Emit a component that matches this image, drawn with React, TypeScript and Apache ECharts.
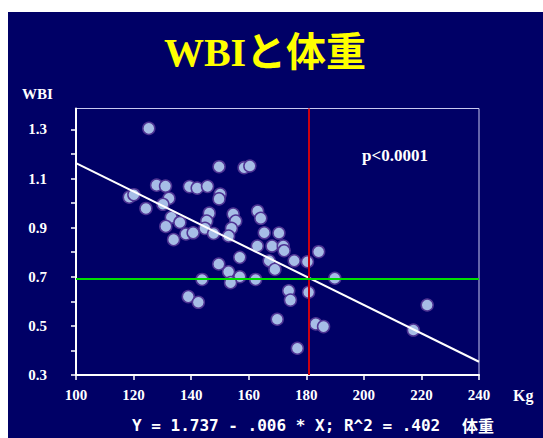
import React, { useEffect, useRef } from "react";
import * as echarts from "echarts";

const weight = [
  125.3, 149.7, 158.4, 160.4, 128.0, 131.1, 139.4, 142.1, 145.7, 150.1,
  149.7, 118.5, 120.1, 132.3, 130.2, 124.3, 146.3, 145.4, 154.6, 163.1,
  164.2, 155.5, 133.1, 136.1, 131.2, 144.8, 154.0, 165.4, 170.5, 138.2,
  140.7, 147.8, 153.0, 133.9, 163.0, 168.1, 172.0, 172.3, 184.3, 156.9,
  167.1, 175.8, 180.4, 149.6, 169.1, 153.0, 156.9, 162.4, 143.8, 153.7,
  189.9, 173.9, 180.8, 174.5, 139.0, 142.5, 169.9, 183.3, 186.0, 176.9,
  222.0, 217.2,
];
const wbi = [
  1.304, 1.148, 1.144, 1.151, 1.073, 1.069, 1.067, 1.061, 1.068, 1.037,
  1.017, 1.024, 1.034, 1.019, 0.995, 0.978, 0.959, 0.927, 0.955, 0.967,
  0.938, 0.927, 0.942, 0.921, 0.905, 0.897, 0.897, 0.879, 0.878, 0.874,
  0.879, 0.876, 0.866, 0.851, 0.825, 0.825, 0.825, 0.806, 0.802, 0.779,
  0.765, 0.765, 0.761, 0.752, 0.730, 0.720, 0.700, 0.689, 0.689, 0.676,
  0.694, 0.643, 0.637, 0.605, 0.619, 0.596, 0.527, 0.508, 0.497, 0.409,
  0.585, 0.483,
];
const regX = [100, 240];
const regY = [1.163, 0.354];
const meanWeight = 181;
const meanWbi = 0.694;
const xTicks = { min: 100, max: 240, interval: 20 };
const yTicks = { min: 0.3, max: 1.385, interval: 0.1 };

const titleText = "WBIと体重";
const yName = "WBI";
const xName = "Kg";
const pText = "p<0.0001";
const eqText = "Y = 1.737 - .006 * X; R^2 = .402";
const eqUnit = "体重";

const serif = "'Liberation Serif', 'Times New Roman', 'Noto Sans CJK JP', serif";

export default function App() {
  const ref = useRef<HTMLDivElement>(null);
  useEffect(() => {
    if (!ref.current) return;
    const chart = echarts.init(ref.current, null, { renderer: "svg" });
    const points = weight.map((w, i) => [w, wbi[i]]);
    chart.setOption({
      animation: false,
      backgroundColor: "#000066",
      grid: {
        left: 68,
        top: 96.5,
        right: 64,
        bottom: 63,
        show: true,
        borderColor: "#c8c8f0",
        borderWidth: 1,
        backgroundColor: "transparent",
      },
      xAxis: {
        type: "value",
        min: xTicks.min,
        max: xTicks.max,
        interval: xTicks.interval,
        splitLine: { show: false },
        axisLine: { show: true, lineStyle: { color: "#ffffff", width: 2 } },
        axisTick: { show: true, inside: false, length: 5, lineStyle: { color: "#ffffff", width: 1.5 } },
        axisLabel: {
          color: "#ffffff",
          fontFamily: serif,
          fontWeight: "bold",
          fontSize: 15,
          margin: 12,
        },
      },
      yAxis: {
        type: "value",
        min: yTicks.min,
        max: yTicks.max,
        interval: yTicks.interval,
        splitLine: { show: false },
        axisLine: { show: true, lineStyle: { color: "#ffffff", width: 2 } },
        axisTick: { show: true, inside: false, length: 5, lineStyle: { color: "#ffffff", width: 1.5 } },
        axisLabel: {
          color: "#ffffff",
          fontFamily: serif,
          fontWeight: "bold",
          fontSize: 15,
          margin: 29,
          showMaxLabel: false,
          formatter: (v: number) => {
            const t = Math.round(v * 10);
            if (Math.abs(v * 10 - t) > 1e-6) return "";
            return t % 2 === 1 ? v.toFixed(1) : "";
          },
        },
      },
      series: [
        {
          type: "scatter",
          data: points,
          symbol: "circle",
          symbolSize: 12,
          z: 2,
          itemStyle: { color: "#a6bde6", borderColor: "#4f3494", borderWidth: 1.5, opacity: 1 },
        },
        {
          type: "line",
          data: regX.map((x, i) => [x, regY[i]]),
          showSymbol: false,
          symbol: "none",
          z: 3,
          lineStyle: { color: "#ffffff", width: 2 },
        },
        {
          type: "line",
          data: [],
          z: 4,
          markLine: {
            silent: true,
            symbol: "none",
            label: { show: false },
            data: [
              { xAxis: meanWeight, lineStyle: { color: "#cc0010", width: 2, type: "solid" } },
              { yAxis: meanWbi, lineStyle: { color: "#00dd00", width: 2, type: "solid" } },
            ],
          },
        },
      ],
      graphic: [
        {
          type: "text",
          x: 257,
          y: 40,
          style: {
            text: titleText,
            fill: "#ffff00",
            font: `bold 40px ${serif}`,
            align: "center",
            verticalAlign: "middle",
          },
        },
        {
          type: "text",
          x: 14,
          y: 82,
          style: {
            text: yName,
            fill: "#ffffff",
            font: `bold 15px ${serif}`,
            align: "left",
            verticalAlign: "middle",
          },
        },
        {
          type: "text",
          x: 387,
          y: 143,
          style: {
            text: pText,
            fill: "#ffffff",
            font: `bold 17px ${serif}`,
            align: "center",
            verticalAlign: "middle",
          },
        },
        {
          type: "text",
          x: 505,
          y: 383,
          style: {
            text: xName,
            fill: "#ffffff",
            font: `bold 16px ${serif}`,
            align: "left",
            verticalAlign: "middle",
          },
        },
        {
          type: "text",
          x: 124,
          y: 413,
          style: {
            text: eqText,
            fill: "#ffffff",
            font: `bold 16px 'DejaVu Sans Mono', 'Liberation Mono', monospace`,
            align: "left",
            verticalAlign: "middle",
          },
        },
        {
          type: "text",
          x: 454,
          y: 413,
          style: {
            text: eqUnit,
            fill: "#ffffff",
            font: `bold 16px 'Noto Sans CJK JP', sans-serif`,
            align: "left",
            verticalAlign: "middle",
          },
        },
      ],
    });
    return () => chart.dispose();
  }, []);
  return (
    <div
      ref={ref}
      style={{ position: "absolute", left: 8, top: 12, width: 535, height: 426 }}
    />
  );
}
